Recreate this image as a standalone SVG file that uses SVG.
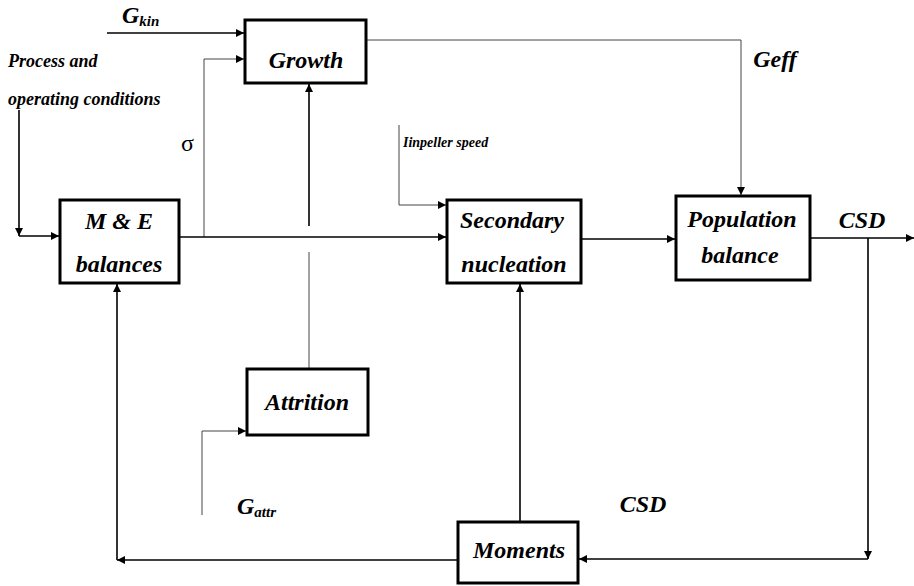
<svg xmlns="http://www.w3.org/2000/svg" width="914" height="586" viewBox="0 0 914 586">
<style>
.box{fill:#fff;stroke:#000;stroke-width:3}
.lbl{font-family:'Liberation Serif','Times New Roman','DejaVu Serif',serif;font-weight:bold;font-style:italic;font-size:24px;fill:#000;text-anchor:middle}
.sm{font-family:'Liberation Serif','Times New Roman','DejaVu Serif',serif;font-weight:bold;font-style:italic;font-size:18px;fill:#000}
.c{fill:none;stroke:#000;stroke-width:1.6}
.t{fill:none;stroke:#444;stroke-width:1}
</style>
<defs>
<marker id="a" viewBox="0 0 10 10" refX="10" refY="5" markerWidth="8" markerHeight="8" markerUnits="userSpaceOnUse" orient="auto">
<path d="M0,0 L10,5 L0,10 z" fill="#000"/>
</marker>
</defs>
<g id="connectors">
<path class="c" d="M107,33 H244" marker-end="url(#a)"/>
<path class="t" d="M204,237 V59 H244" marker-end="url(#a)"/>
<path class="c" d="M19,110 V236" marker-end="url(#a)"/>
<path class="c" d="M19,236 H59" marker-end="url(#a)"/>
<path class="c" d="M179,237 H446" marker-end="url(#a)"/>
<path class="t" d="M309,368 V252"/>
<path class="c" d="M309,226 V84" marker-end="url(#a)"/>
<path class="t" d="M202,515 V431 H246" marker-end="url(#a)"/>
<path class="t" d="M399,125 V205 H446" marker-end="url(#a)"/>
<path class="t" d="M366,40 H741 V195" marker-end="url(#a)"/>
<path class="c" d="M581,239 H675" marker-end="url(#a)"/>
<path class="c" d="M810,238 H914" marker-end="url(#a)"/>
<path class="c" d="M868,238 V559" marker-end="url(#a)"/>
<path class="c" d="M868,559 H579" marker-end="url(#a)"/>
<path class="c" d="M520,522 V284" marker-end="url(#a)"/>
<path class="c" d="M458,560 H117" marker-end="url(#a)"/>
<path class="c" d="M117,560 V284" marker-end="url(#a)"/>
</g>
<g id="growth"><rect class="box" x="245" y="20" width="121" height="63"/><text class="lbl" x="306" y="68">Growth</text></g>
<g id="me"><rect class="box" x="60" y="200" width="119" height="83"/><text class="lbl" x="119" y="229">M &amp; E</text><text class="lbl" x="119" y="272">balances</text></g>
<g id="attrition"><rect class="box" x="247" y="369" width="121" height="66"/><text class="lbl" x="307" y="410">Attrition</text></g>
<g id="secondary"><rect class="box" x="447" y="200" width="134" height="83"/><text class="lbl" x="512" y="228">Secondary</text><text class="lbl" x="514" y="272">nucleation</text></g>
<g id="population"><rect class="box" x="676" y="196" width="134" height="84"/><text class="lbl" x="742" y="227">Population</text><text class="lbl" x="740" y="263">balance</text></g>
<g id="moments"><rect class="box" x="458" y="522" width="120" height="61"/><text class="lbl" x="519" y="558">Moments</text></g>
<g id="labels">
<text class="lbl" x="122" y="23" style="text-anchor:start">G<tspan font-size="15" dy="3">kin</tspan></text>
<text class="sm" x="8" y="67">Process and</text>
<text class="sm" x="8" y="105">operating conditions</text>
<text x="181" y="151" font-family="'Liberation Serif','DejaVu Serif',serif" font-size="24" fill="#000">σ</text>
<text class="sm" x="403" y="147" style="font-size:14px">Iinpeller speed</text>
<text class="lbl" x="775" y="67">Geff</text>
<text class="lbl" x="862" y="228">CSD</text>
<text class="lbl" x="643" y="512">CSD</text>
<text class="lbl" x="237" y="514" style="text-anchor:start">G<tspan font-size="15" dy="3">attr</tspan></text>
</g>
</svg>
